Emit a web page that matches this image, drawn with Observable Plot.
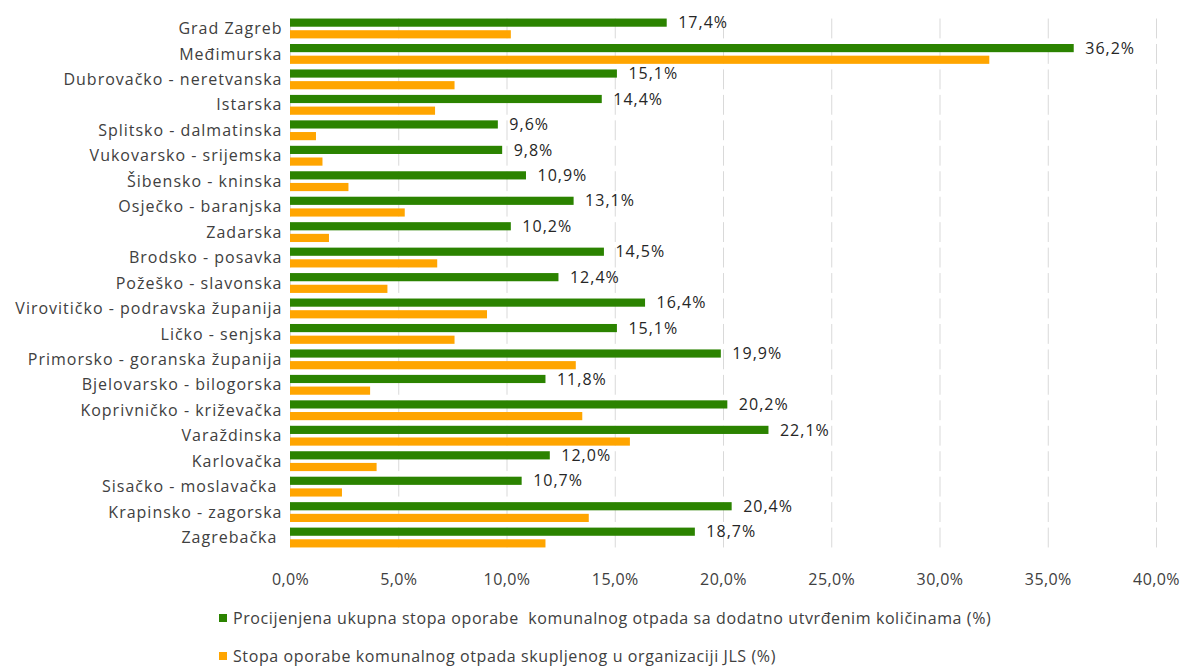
<!DOCTYPE html>
<html>
<head>
<meta charset="utf-8">
<script src="https://cdn.jsdelivr.net/npm/d3@7"></script>
<script src="https://cdn.jsdelivr.net/npm/@observablehq/plot@0.6"></script>
<style>
  body { margin: 0; background: #fff; font-family: "Open Sans", sans-serif; }
  #chart svg { display: block; }
  #chart svg g[aria-label="fy-axis tick label"] text { letter-spacing: 1px; white-space: pre; }
  #chart svg g[aria-label="text"] text { letter-spacing: 1px; }
  #chart svg g[aria-label="x-axis tick label"] text { letter-spacing: 0.4px; }
  .legend { margin-left: 219px; margin-top: 4px; color: #404040; font-size: 16px; letter-spacing: 0.6px; }
  .legend .item { display: flex; align-items: center; height: 38px; }
  .legend .sw { width: 8px; height: 8px; margin-right: 6px; }
</style>
</head>
<body>
<div id="chart"></div>
<div class="legend" id="legend"></div>
<script>
const categories = [
  "Grad Zagreb", "Međimurska", "Dubrovačko - neretvanska", "Istarska",
  "Splitsko - dalmatinska", "Vukovarsko - srijemska", "Šibensko - kninska",
  "Osječko - baranjska", "Zadarska", "Brodsko - posavka", "Požeško - slavonska",
  "Virovitičko - podravska županija", "Ličko - senjska",
  "Primorsko - goranska županija", "Bjelovarsko - bilogorska",
  "Koprivničko - križevačka", "Varaždinska", "Karlovačka",
  "Sisačko - moslavačka ", "Krapinsko - zagorska", "Zagrebačka "
];
const totalRate = [17.4, 36.2, 15.1, 14.4, 9.6, 9.8, 10.9, 13.1, 10.2, 14.5, 12.4, 16.4, 15.1, 19.9, 11.8, 20.2, 22.1, 12.0, 10.7, 20.4, 18.7];
const jlsRate = [10.2, 32.3, 7.6, 6.7, 1.2, 1.5, 2.7, 5.3, 1.8, 6.8, 4.5, 9.1, 7.6, 13.2, 3.7, 13.5, 15.7, 4.0, 2.4, 13.8, 11.8];
const seriesNames = [
  "Procijenjena ukupna stopa oporabe  komunalnog otpada sa dodatno utvrđenim količinama (%)",
  "Stopa oporabe komunalnog otpada skupljenog u organizaciji JLS (%)"
];
const seriesColors = ["#2b8300", "#ffa500"];
const xTicks = [0, 5, 10, 15, 20, 25, 30, 35, 40];

const fmt = v => v.toFixed(1).replace(".", ",") + "%";

const rows = [];
categories.forEach((c, i) => {
  rows.push({cat: c, series: seriesNames[0], value: totalRate[i]});
  rows.push({cat: c, series: seriesNames[1], value: jlsRate[i]});
});
const totalRows = rows.filter(d => d.series === seriesNames[0]);

const chart = Plot.plot({
  width: 1184,
  height: 595,
  marginLeft: 290,
  marginRight: 28,
  marginTop: 16,
  marginBottom: 45,
  style: {fontFamily: "'Open Sans', sans-serif", fontSize: "16px", color: "#404040"},
  x: {domain: [0, 40], ticks: xTicks, tickFormat: fmt, tickSize: 0, tickPadding: 26, label: null, grid: false},
  fy: {domain: categories, axis: "left", label: null, tickSize: 0, tickPadding: 8, paddingInner: 0.22, paddingOuter: 0.1, round: false},
  y: {domain: seriesNames, axis: null, paddingInner: 0.3, paddingOuter: 0, round: false},
  color: {domain: seriesNames, range: seriesColors},
  marks: [
    Plot.ruleX(xTicks, {stroke: "#d9d9d9", strokeWidth: 1}),
    Plot.barX(rows, {x: "value", y: "series", fy: "cat", fill: "series"}),
    Plot.text(totalRows, {x: "value", y: "series", fy: "cat", text: d => fmt(d.value), textAnchor: "start", dx: 11, fill: "#262626", fontSize: 16})
  ]
});
document.getElementById("chart").appendChild(chart);

const legend = document.getElementById("legend");
seriesNames.forEach((s, i) => {
  const it = document.createElement("div");
  it.className = "item";
  const sw = document.createElement("span");
  sw.className = "sw";
  sw.style.background = seriesColors[i];
  const t = document.createElement("span");
  t.textContent = s;
  t.style.whiteSpace = "pre";
  it.appendChild(sw); it.appendChild(t);
  legend.appendChild(it);
});
</script>
</body>
</html>
